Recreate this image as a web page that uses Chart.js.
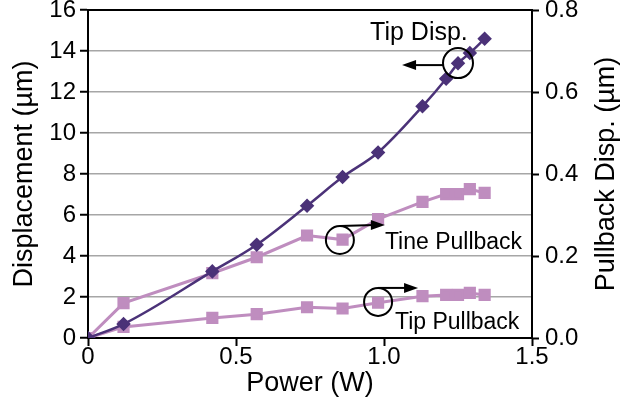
<!DOCTYPE html>
<html>
<head>
<meta charset="utf-8">
<script src="https://cdn.jsdelivr.net/npm/chart.js@4.4.1/dist/chart.umd.min.js"></script>
<style>
  html, body { margin: 0; padding: 0; background: #fff; }
  #wrap { width: 634px; height: 410px; }
</style>
</head>
<body>
<div id="wrap"><canvas id="chart" width="634" height="410"></canvas></div>
<script>
// Potência aplicada (W) - mesmo eixo x para as três séries
const power = [0, 0.12, 0.42, 0.57, 0.74, 0.86, 0.98, 1.13, 1.21, 1.25, 1.29, 1.34];
// Deslocamento da ponta (eixo esquerdo, µm)
const tipDisp = [0, 0.68, 3.25, 4.55, 6.45, 7.85, 9.05, 11.3, 12.65, 13.4, 13.9, 14.6];
// Recuo (eixo direito, µm)
const tinePullback = [0, 0.085, 0.158, 0.197, 0.25, 0.24, 0.29, 0.332, 0.351, 0.351, 0.363, 0.354];
const tipPullback = [0, 0.027, 0.049, 0.058, 0.075, 0.072, 0.086, 0.102, 0.105, 0.105, 0.11, 0.105];

const leftTicks = [0, 2, 4, 6, 8, 10, 12, 14, 16];
const rightTicks = [0, 0.2, 0.4, 0.6, 0.8];
const xTicks = [0, 0.5, 1.0, 1.5];

const DARK = '#4B3278';
const PINK = '#BF8DBF';
const FONT = '"Liberation Sans", Arial, sans-serif';

const toPoints = (ys) => power.map((x, i) => ({ x: x, y: ys[i] }));

// Desenha a moldura superior, o título do eixo direito e as anotações
const annotations = {
    id: 'annotations',
    afterDatasetsDraw(chart) {
        const { ctx, chartArea, scales } = chart;
        const x = scales.x, yL = scales.y, yR = scales.y2;

        ctx.save();
        ctx.strokeStyle = '#000';
        ctx.lineWidth = 2;
        ctx.beginPath();
        ctx.moveTo(chartArea.left, chartArea.top);
        ctx.lineTo(chartArea.right, chartArea.top);
        ctx.stroke();

        const arrow = (x0, y0, x1, y1) => {
            const dir = Math.sign(x1 - x0);
            ctx.beginPath();
            ctx.moveTo(x0, y0);
            ctx.lineTo(x1 - dir * 10, y1);
            ctx.stroke();
            ctx.beginPath();
            ctx.moveTo(x1, y1);
            ctx.lineTo(x1 - dir * 14, y1 - 5);
            ctx.lineTo(x1 - dir * 14, y1 + 5);
            ctx.closePath();
            ctx.fill();
        };
        const circle = (cx, cy, r) => {
            ctx.beginPath();
            ctx.arc(cx, cy, r, 0, Math.PI * 2);
            ctx.stroke();
        };

        ctx.fillStyle = '#000';
        ctx.lineWidth = 2;
        ctx.textBaseline = 'alphabetic';
        ctx.textAlign = 'left';

        // Tip Disp. -> eixo esquerdo
        let cx = x.getPixelForValue(1.25), cy = yL.getPixelForValue(13.41);
        circle(cx, cy, 15);
        arrow(cx - 15, cy + 2, x.getPixelForValue(1.061), cy + 2);
        ctx.font = '25px ' + FONT;
        ctx.fillText('Tip Disp.', x.getPixelForValue(0.953), yL.getPixelForValue(14.54));

        ctx.font = '23px ' + FONT;
        // Tine Pullback -> eixo direito
        cx = x.getPixelForValue(0.851); cy = yR.getPixelForValue(0.239);
        circle(cx, cy, 14);
        arrow(cx, cy - 14, x.getPixelForValue(1.003), cy - 15);
        ctx.fillText('Tine Pullback', x.getPixelForValue(1.003), yR.getPixelForValue(0.217));

        // Tip Pullback -> eixo direito
        cx = x.getPixelForValue(0.98); cy = yR.getPixelForValue(0.088);
        circle(cx, cy, 14);
        arrow(cx, cy - 14, x.getPixelForValue(1.115), cy - 14);
        ctx.fillText('Tip Pullback', x.getPixelForValue(1.037), yR.getPixelForValue(0.022));

        // Título do eixo direito, lido de baixo para cima
        ctx.translate(607, (chartArea.top + chartArea.bottom) / 2);
        ctx.rotate(-Math.PI / 2);
        ctx.font = '27px ' + FONT;
        ctx.textAlign = 'center';
        ctx.textBaseline = 'middle';
        ctx.fillText('Pullback Disp. (µm)', 0, 0);

        ctx.restore();
    }
};

new Chart(document.getElementById('chart'), {
    type: 'line',
    data: {
        datasets: [
            {
                label: 'Tip Disp.',
                data: toPoints(tipDisp),
                yAxisID: 'y',
                borderColor: DARK,
                backgroundColor: DARK,
                borderWidth: 2.5,
                pointStyle: 'rectRot',
                pointRadius: 5.5,
                cubicInterpolationMode: 'monotone'
            },
            {
                label: 'Tine Pullback',
                data: toPoints(tinePullback),
                yAxisID: 'y2',
                borderColor: PINK,
                backgroundColor: PINK,
                borderWidth: 3,
                pointStyle: 'rect',
                pointRadius: 6.5,
                tension: 0
            },
            {
                label: 'Tip Pullback',
                data: toPoints(tipPullback),
                yAxisID: 'y2',
                borderColor: PINK,
                backgroundColor: PINK,
                borderWidth: 3,
                pointStyle: 'rect',
                pointRadius: 6.5,
                tension: 0
            }
        ]
    },
    options: {
        responsive: false,
        animation: false,
        layout: { padding: { top: 10, left: 0, right: 0, bottom: 0 } },
        plugins: { legend: { display: false }, tooltip: { enabled: false } },
        scales: {
            x: {
                type: 'linear',
                min: 0,
                max: 1.5,
                afterBuildTicks: (s) => { s.ticks = xTicks.map(v => ({ value: v })); },
                afterFit: (s) => { s.height = 72; s.paddingLeft = 0; s.paddingRight = 0; },
                grid: { drawOnChartArea: false, tickLength: 8, tickColor: '#000', tickWidth: 2 },
                border: { color: '#000', width: 2 },
                ticks: {
                    color: '#000',
                    padding: -3,
                    maxRotation: 0,
                    font: { family: FONT, size: 24 },
                    callback: (v) => (v === 0 ? '0' : v.toFixed(1))
                },
                title: {
                    display: true,
                    text: 'Power (W)',
                    color: '#000',
                    padding: { top: 0, bottom: 10 },
                    font: { family: FONT, size: 27 }
                }
            },
            y: {
                position: 'left',
                min: 0,
                max: 16,
                afterBuildTicks: (s) => { s.ticks = leftTicks.map(v => ({ value: v })); },
                afterFit: (s) => { s.width = 88; s.paddingTop = 0; s.paddingBottom = 0; },
                grid: { color: '#A6A6A6', lineWidth: 1.5, tickLength: 8, tickColor: '#000', tickWidth: 2 },
                border: { color: '#000', width: 2 },
                ticks: { color: '#000', padding: 4, font: { family: FONT, size: 24 } },
                title: {
                    display: true,
                    text: 'Displacement (µm)',
                    color: '#000',
                    padding: { top: 8, bottom: 0 },
                    font: { family: FONT, size: 27 }
                }
            },
            y2: {
                position: 'right',
                min: 0,
                max: 0.8,
                afterBuildTicks: (s) => { s.ticks = rightTicks.map(v => ({ value: v })); },
                afterFit: (s) => { s.width = 102; s.paddingTop = 0; s.paddingBottom = 0; },
                grid: { drawOnChartArea: false, tickLength: 7, tickColor: '#000', tickWidth: 2 },
                border: { color: '#000', width: 2 },
                ticks: {
                    color: '#000',
                    padding: 6,
                    font: { family: FONT, size: 24 },
                    callback: (v) => v.toFixed(1)
                },
                title: { display: false }
            }
        }
    },
    plugins: [annotations]
});
</script>
</body>
</html>
